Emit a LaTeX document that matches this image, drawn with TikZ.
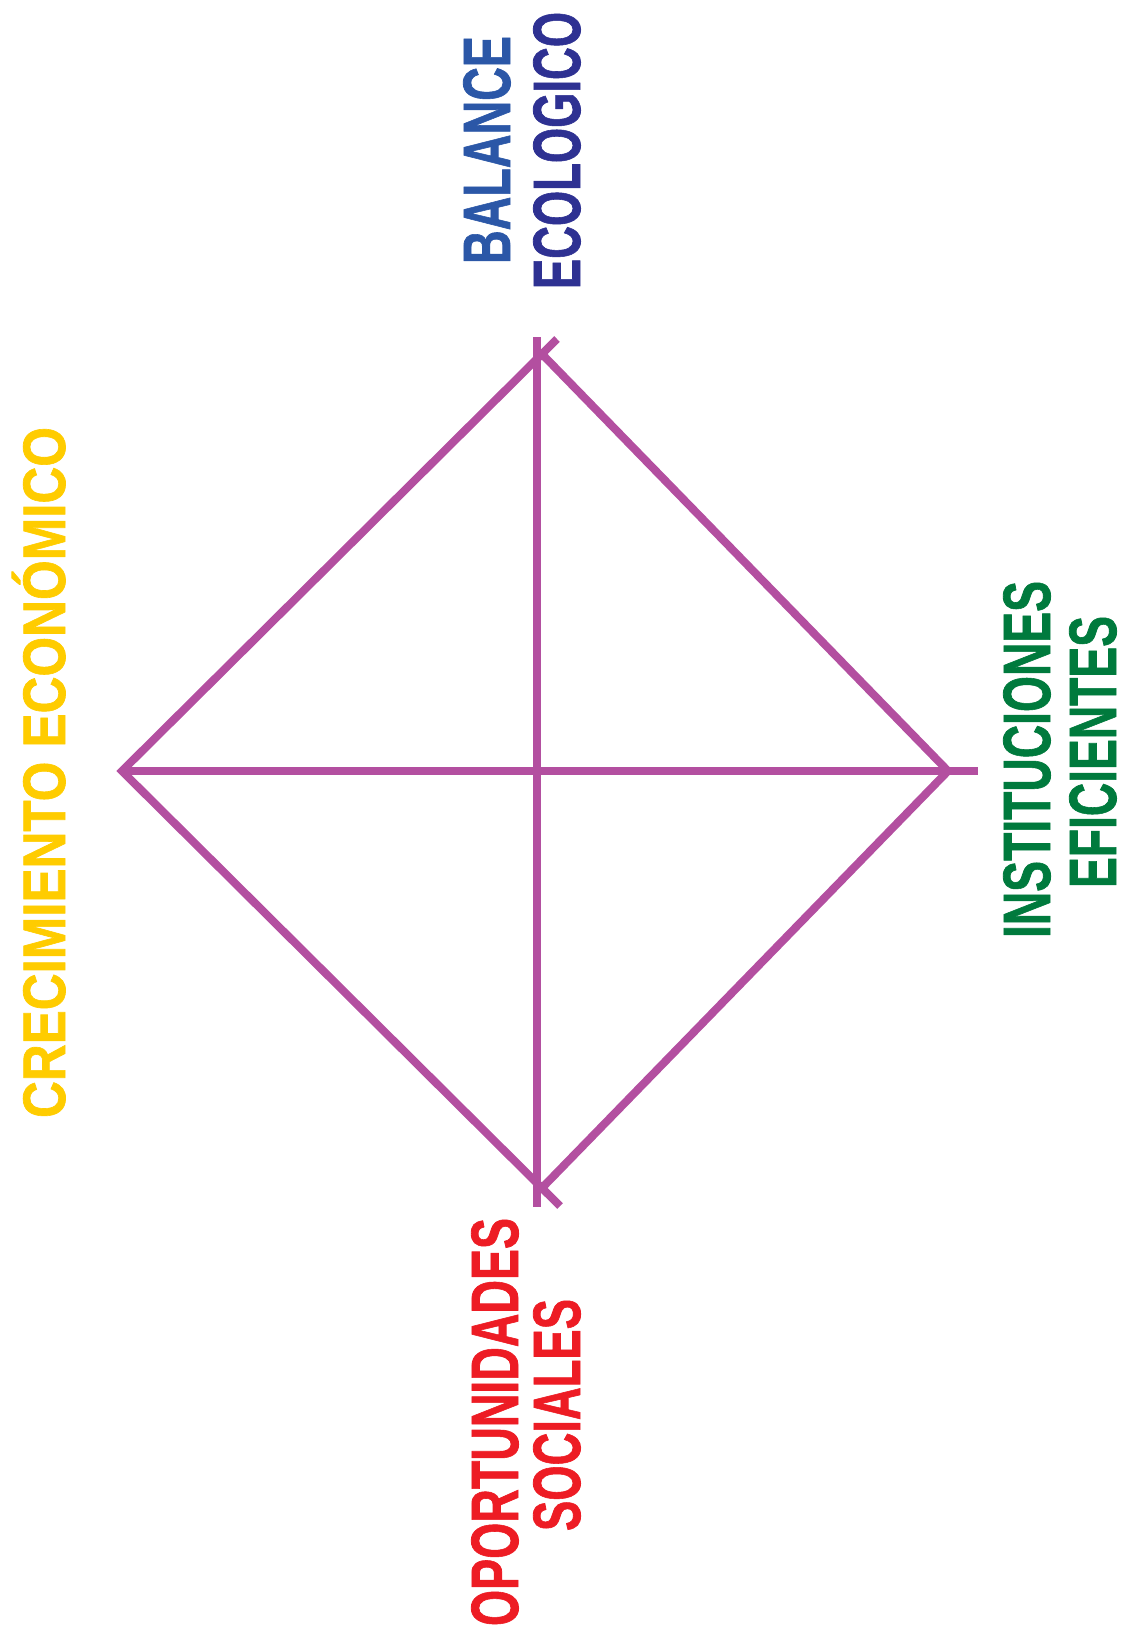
\documentclass[tikz,border=0pt]{standalone}
\usepackage{fontspec}
\setmainfont[BoldFeatures={FakeBold=1.2}]{Liberation Sans}
\usepackage{graphicx}
\usepackage{xcolor}

\definecolor{rombo}{HTML}{B34FA0}
\definecolor{amarillo}{HTML}{FFCC00}
\definecolor{azul}{HTML}{2B57A7}
\definecolor{indigo}{HTML}{2E3192}
\definecolor{rojo}{HTML}{ED1C24}
\definecolor{verde}{HTML}{007A3D}

\begin{document}
\begin{tikzpicture}[x=1pt, y=-1pt,
    eje/.style={line width=8pt, rombo, line join=miter},
    lbl/.style={rotate=90, anchor=base, inner sep=0pt, font=\fontsize{67}{67}\selectfont\bfseries}]
    \useasboundingbox (0,0) rectangle (1128,1631);

    % Corners of the diamond
    \coordinate (cl) at (122,771);
    \coordinate (cr) at (948,771);
    \coordinate (ct) at (540,352);
    \coordinate (cb) at (540,1190);
    % Overshooting ends
    \coordinate (tx) at (557,339);
    \coordinate (bx) at (560,1206);
    \coordinate (he) at (978,771);
    \coordinate (vt) at (537,337);
    \coordinate (vb) at (537,1207);

    % Cross
    \draw[eje] (cl) -- (he);
    \draw[eje] (vt) -- (vb);

    % Diamond sides
    \draw[eje] (tx) -- (cl) -- (bx);
    \draw[eje] (ct) -- (cr) -- (cb);

    % Labels
    \node[lbl, azul] (bal) at (510,150) {\resizebox{228pt}{\height}{BALANCE}};
    \node[lbl, indigo] (eco) at (580,150.5) {\resizebox{277pt}{\height}{ECOLOGICO}};
    \node[lbl, rojo] (opo) at (518,1422) {\resizebox{408pt}{\height}{OPORTUNIDADES}};
    \node[lbl, rojo] (soc) at (580,1415) {\resizebox{232pt}{\height}{SOCIALES}};
    \node[lbl, amarillo, font=\fontsize{60}{60}\selectfont\bfseries] (cre) at (65,772.5) {\resizebox{691pt}{\height}{CRECIMIENTO ECONÓMICO}};
    \node[lbl, verde] (ins) at (1050,759.5) {\resizebox{357pt}{\height}{INSTITUCIONES}};
    \node[lbl, verde] (efi) at (1116,752) {\resizebox{272pt}{\height}{EFICIENTES}};
\end{tikzpicture}
\end{document}
